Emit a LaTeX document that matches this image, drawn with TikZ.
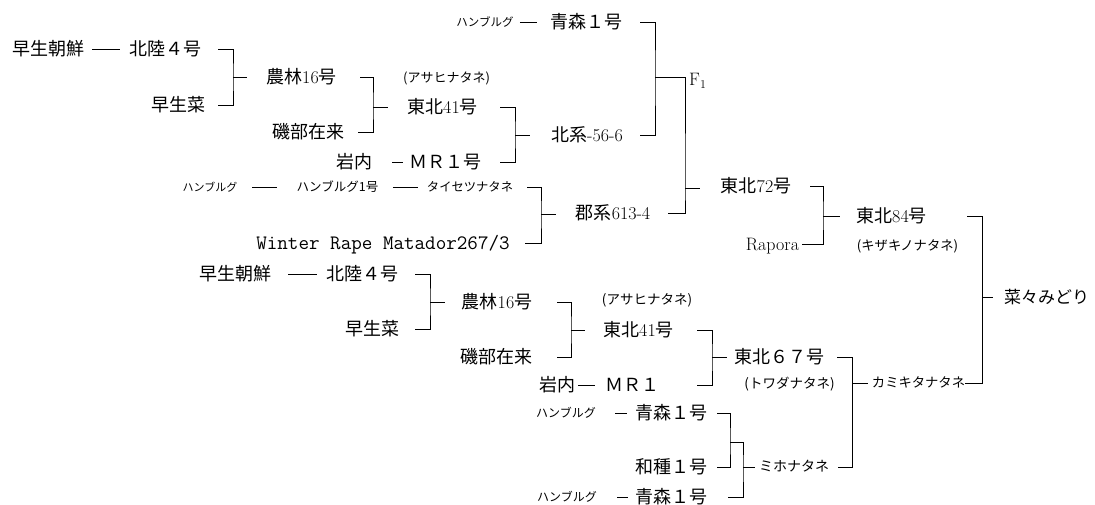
\documentclass[tikz,border=0pt]{standalone}
\usepackage{fontspec}
\newfontfamily\jp{Noto Sans CJK JP}
\newcommand\J[1]{{\jp #1}}
\tikzset{
  lbl/.style={inner sep=0pt, text height=15.8pt, text depth=2.2pt, font=\fontsize{18}{18}\selectfont},
  sml/.style={inner sep=0pt, text height=10.6pt, text depth=1.4pt, font=\jp\fontsize{#1}{#1}\selectfont},
  sml/.default=12,
  mono/.style={inner sep=0pt, text height=15.8pt, text depth=2.2pt, font=\ttfamily\fontsize{20.5}{20.5}\selectfont},
  ln/.style={line width=0.9pt, black}
}
\newcommand\brk[6]{%
  \draw[ln] ([xshift=-#4pt]#3 |- #1) -| (#3) |- ([xshift=-#5pt]#3 |- #2);
  \draw[ln] (#3) -- ++(#6pt,0);}
\begin{document}
\begin{tikzpicture}[x=1pt,y=-1pt]
\useasboundingbox (0,0) rectangle (1095,504);
% ---------- upper block ----------
\node[lbl] (wcA) at (48.5,49) {\J{早生朝鮮}};
\node[lbl] (hrA) at (165,49) {\J{北陸４号}};
\node[lbl] (wsA) at (178.5,105) {\J{早生菜}};
\node[lbl] (nrA) at (301.5,77) {\J{農林}16\J{号}};
\node[lbl] (isA) at (308.5,132) {\J{磯部在来}};
\node[lbl] (iwA) at (354,162) {\J{岩内}};
\node[lbl] (mrA) at (445.5,162) {\J{ＭＲ１号}};
\node[sml=13] (asA) at (446.5,78) {(アサヒナタネ)};
\node[lbl] (t41A) at (442.5,107) {\J{東北}41\J{号}};
\node[lbl] (hk) at (587,135) {\J{北系}-56-6};
\node[sml=11.5] (hbA) at (485,22) {ハンブルグ};
\node[lbl] (aoA) at (586.5,22) {\J{青森１号}};
\node[lbl,anchor=west] (f1) at (689,79) {F$_1$};
\node[sml=11] (hbB) at (210,187) {ハンブルグ};
\node[sml=12.5] (hb1) at (337.5,187) {ハンブルグ1号};
\node[sml=12.3] (ts) at (470,187) {タイセツナタネ};
\node[mono] (wr) at (383,243) {Winter Rape Matador267/3};
\node[lbl] (gk) at (613,213) {\J{郡系}613-4};
\node[lbl] (t72) at (756,186) {\J{東北}72\J{号}};
\node[lbl] (rp) at (772.5,244) {Rapora};
\node[lbl] (t84) at (891.5,216) {\J{東北}84\J{号}};
\node[sml=13.3] (kz) at (907.5,246) {(キザキノナタネ)};
\node[lbl,font=\fontsize{17}{17}\selectfont] (nn) at (1046.5,297) {\J{菜々みどり}};
% ---------- lower block ----------
\node[lbl] (wcB) at (235,274) {\J{早生朝鮮}};
\node[lbl] (hrB) at (362.5,274) {\J{北陸４号}};
\node[lbl] (wsB) at (372.5,329) {\J{早生菜}};
\node[lbl] (nrB) at (497,302) {\J{農林}16\J{号}};
\node[lbl] (isB) at (496,357) {\J{磯部在来}};
\node[sml=13.5] (asB) at (647,300) {(アサヒナタネ)};
\node[lbl] (t41B) at (638.5,330) {\J{東北}41\J{号}};
\node[lbl] (iwB) at (557,385) {\J{岩内}};
\node[lbl] (mrB) at (632.5,385) {\J{ＭＲ１}};
\node[lbl] (t67) at (779.5,357) {\J{東北６７号}};
\node[sml=13.5] (tw) at (789.5,384) {(トワダナタネ)};
\node[sml=13.3] (km) at (918.5,383) {カミキタナタネ};
\node[sml=12] (hbC) at (566,413) {ハンブルグ};
\node[lbl] (aoC) at (671.5,413) {\J{青森１号}};
\node[lbl] (ws1) at (671.5,467) {\J{和種１号}};
\node[sml=12] (hbD) at (567,497) {ハンブルグ};
\node[lbl] (aoD) at (671.5,497) {\J{青森１号}};
\node[sml=14] (mh) at (794,467) {ミホナタネ};
% ---------- dashes ----------
\draw[ln, shorten <=7.5pt, shorten >=9pt] (wcA.east) -- (hrA.west);
\draw[ln, shorten <=6pt, shorten >=13.5pt] (hbA.east) -- (aoA.west);
\draw[ln, shorten <=20pt, shorten >=6.5pt] (iwA.east) -- (mrA.west);
\draw[ln, shorten <=14.5pt, shorten >=19.5pt] (hbB.east) -- (hb1.west);
\draw[ln, shorten <=14.5pt, shorten >=9pt] (hb1.east) -- (ts.west);
\draw[ln, shorten <=17pt, shorten >=9.5pt] (wcB.east) -- (hrB.west);
\draw[ln, shorten <=3pt, shorten >=10.5pt] (iwB.east) -- (mrB.west);
\draw[ln, shorten <=19pt, shorten >=8.5pt] (hbC.east) -- (aoC.west);
\draw[ln, shorten <=20pt, shorten >=7.5pt] (hbD.east) -- (aoD.west);
% ---------- brackets ----------
\coordinate (j1) at (233,77);
\coordinate (j2) at (373,107);
\coordinate (j3) at (515,135);
\coordinate (j4) at (655,77);
\coordinate (j5) at (685,188);
\coordinate (j6) at (541,214);
\coordinate (j7) at (823,216);
\coordinate (j8) at (982,297);
\coordinate (j9) at (430,302);
\coordinate (j10) at (571,330);
\coordinate (j11) at (712,357);
\coordinate (j12) at (852,383);
\coordinate (j13) at (730,442);
\coordinate (j14) at (743,467);
\brk{hrA}{wsA}{j1}{15}{15}{14}
\brk{nrA}{isA}{j2}{13}{15}{15}
\brk{t41A}{mrA}{j3}{15}{15}{15}
\draw[ln] ([xshift=-15pt]j4 |- aoA) -| (j4) |- ([xshift=-15pt]j4 |- hk);
\draw[ln] (j4) -| (j5) |- ([xshift=-17pt]j5 |- gk);
\draw[ln] (j5) -- ++(15pt,0);
\brk{ts}{wr}{j6}{14}{16}{15}
\brk{t72}{rp}{j7}{13}{21}{17}
\brk{t84}{km}{j8}{15}{17}{11}
\brk{hrB}{wsB}{j9}{15}{15}{15}
\brk{nrB}{isB}{j10}{14}{14}{14}
\brk{t41B}{mrB}{j11}{15}{15}{15}
\brk{t67}{mh}{j12}{15}{14}{16}
\draw[ln] ([xshift=-13pt]j13 |- aoC) -| (j13) |- ([xshift=-13pt]j13 |- ws1);
\draw[ln] (j13) -| (j14) |- ([xshift=-15pt]j14 |- aoD);
\draw[ln] (j14) -- ++(12pt,0);
\end{tikzpicture}
\end{document}
